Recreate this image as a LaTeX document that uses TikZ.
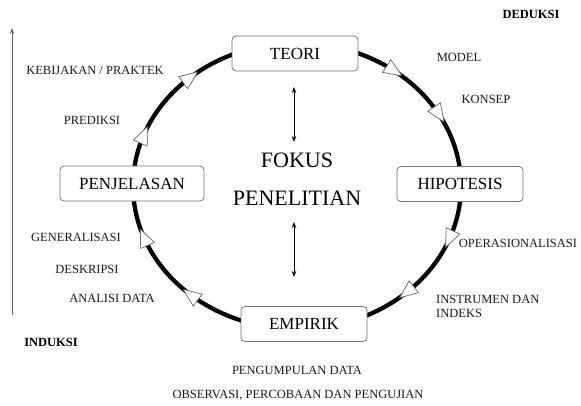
\documentclass[tikz,border=0pt]{standalone}
\usepackage{fontspec}
\setmainfont{Liberation Serif}
\usetikzlibrary{arrows.meta}
\begin{document}
\begin{tikzpicture}[x=1pt,y=-1pt,
  box/.style={draw=black!55, line width=0.8pt, rounded corners=4pt, fill=white, minimum height=35pt, font=\fontsize{17}{20}\selectfont, inner sep=0pt},
  lbl/.style={font=\fontsize{12.5}{14}\selectfont, text=black!90, inner sep=0pt},
  boldlbl/.style={font=\fontsize{12.5}{14}\selectfont\bfseries, text=black, inner sep=0pt},
  tritip/.style={fill=white, draw=black!60, line width=0.7pt, line join=miter},
  dbl/.style={{Stealth[length=6pt,width=4.5pt]}-{Stealth[length=6pt,width=4.5pt]}, line width=0.8pt},
]
\useasboundingbox (0,0) rectangle (581,405);
% cycle
\draw[line width=4.3pt] (297,186) ellipse [x radius=164, y radius=143];
\foreach \t in {130.5,159,53.6,30,-21.8,-48,201,229.5}{
  \pgfmathsetmacro\px{297+164*cos(\t)}
  \pgfmathsetmacro\py{186-143*sin(\t)}
  \pgfmathsetmacro\ang{atan2(-143*cos(\t), 164*sin(\t))}
  \draw[tritip, shift={(\px,\py)}, rotate=\ang] (9,0) -- (-9,7.5) -- (-9,-7.5) -- cycle;
}
% boxes
\node[box, minimum width=126pt] (teori) at (295,53.5) {TEORI};
\node[box, minimum width=144pt] (penj) at (132,183.5) {PENJELASAN};
\node[box, minimum width=126pt] (hipo) at (460,184) {HIPOTESIS};
\node[box, minimum width=126pt] (empi) at (304,324) {EMPIRIK};
% centre
\node[font=\fontsize{22}{26}\selectfont] (fokus) at (297,160) {FOKUS};
\node[font=\fontsize{22}{26}\selectfont] (pen) at (297,198) {PENELITIAN};
\coordinate (a1) at (294,87);
\coordinate (a2) at (294,142);
\coordinate (b1) at (294,222);
\coordinate (b2) at (294,277);
\draw[dbl] (a1) -- (a2);
\draw[dbl] (b1) -- (b2);
% left axis
\coordinate (l1) at (12,315);
\coordinate (l2) at (12,28);
\draw[-{Stealth[length=6pt,width=4.5pt]}, black!60, line width=0.8pt] (l1) -- (l2);
% labels
\node[boldlbl] (ded) at (531,14) {DEDUKSI};
\node[boldlbl] (ind) at (51,342) {INDUKSI};
\node[lbl] (kb) at (95,70) {KEBIJAKAN / PRAKTEK};
\node[lbl] (pr) at (92,120) {PREDIKSI};
\node[lbl] (mo) at (459,57) {MODEL};
\node[lbl] (ko) at (486,99) {KONSEP};
\node[lbl] (op) at (518,243) {OPERASIONALISASI};
\node[lbl, anchor=west, align=left] (in) at (436,306) {INSTRUMEN DAN\\INDEKS};
\node[lbl] (ge) at (76,237) {GENERALISASI};
\node[lbl] (de) at (87,269) {DESKRIPSI};
\node[lbl] (an) at (112,298) {ANALISI DATA};
\node[lbl] (pe) at (297,370) {PENGUMPULAN DATA};
\node[lbl] (ob) at (298,395) {OBSERVASI, PERCOBAAN DAN PENGUJIAN};
\end{tikzpicture}
\end{document}
